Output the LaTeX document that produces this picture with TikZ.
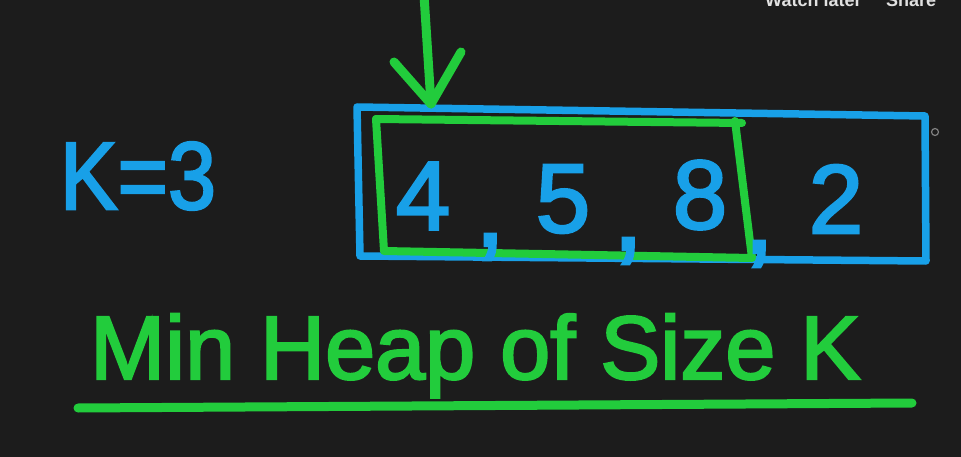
\documentclass[tikz,border=0pt]{standalone}
\usepackage{fontspec}
\setmainfont{Liberation Sans}
\newfontfamily\handfont[FakeBold=2.5]{Liberation Sans}
\definecolor{bg}{RGB}{28,28,28}
\definecolor{penblue}{RGB}{24,160,232}
\definecolor{pengreen}{RGB}{34,204,60}
\definecolor{uigray}{RGB}{225,225,225}
\tikzset{
  bluepen/.style={draw=penblue,line width=7.5pt,line cap=round,line join=round},
  greenpen/.style={draw=pengreen,line width=8pt,line cap=round,line join=round},
  digit/.style={text=penblue,inner sep=0pt,font=\handfont\fontsize{98}{98}\selectfont},
  comma/.style={text=penblue,inner sep=0pt,font=\handfont\fontsize{110}{110}\selectfont},
  uitext/.style={text=uigray,inner sep=0pt,anchor=base west,font=\bfseries\fontsize{18}{18}\selectfont}
}
\begin{document}
\begin{tikzpicture}[x=1pt,y=-1pt]
\useasboundingbox (0,0) rectangle (961,457);
\clip (0,0) rectangle (961,457);
\fill[bg] (0,0) rectangle (961,457);

% UI text at top right
\node[uitext] (watch) at (765,7) {Watch later};
\node[uitext] (share) at (886,7) {Share};

% K=3
\node[text=penblue,inner sep=0pt,font=\handfont\fontsize{96}{96}\selectfont,xscale=0.9] (k) at (138,176) {K=3};

% blue array box
\draw[bluepen] (357,107) -- (925,116) -- (926,261) -- (360,256) -- cycle;

% green window box
\draw[greenpen] (376,119) -- (742,123);
\draw[greenpen] (735,121) -- (752,258) -- (384,251) -- (376,119);

% numbers
\node[digit] (n4) at (423,196) {4};
\node[comma] (c1) at (490,247) {,};
\node[digit] (n5) at (563,199) {5};
\node[comma] (c2) at (628,251) {,};
\node[digit] (n8) at (700,195) {8};
\node[comma] (c3) at (759,254) {,};
\node[digit] (n2) at (836,199) {2};

% arrow into window
\coordinate (atop) at (424,-5);
\coordinate (atip) at (431,104);
\coordinate (aleft) at (394,62);
\coordinate (aright) at (461,52);
\draw[greenpen,line width=9pt] (atop) -- (atip);
\draw[greenpen,line width=9pt] (aleft) -- (atip) -- (aright);

% small circle
\node[draw=gray,line width=1.2pt,circle,minimum size=7pt,inner sep=0pt] (dot) at (935,132) {};

% title
\node[text=pengreen,inner sep=0pt,font=\handfont\fontsize{90}{90}\selectfont,xscale=1.0,yscale=1.0,anchor=base west] (title) at (90,379) {Min Heap of Size K};

% underline
\coordinate (ul) at (78,408);
\coordinate (ur) at (912,403);
\draw[greenpen,line width=9pt] (ul) -- (ur);
\end{tikzpicture}
\end{document}
